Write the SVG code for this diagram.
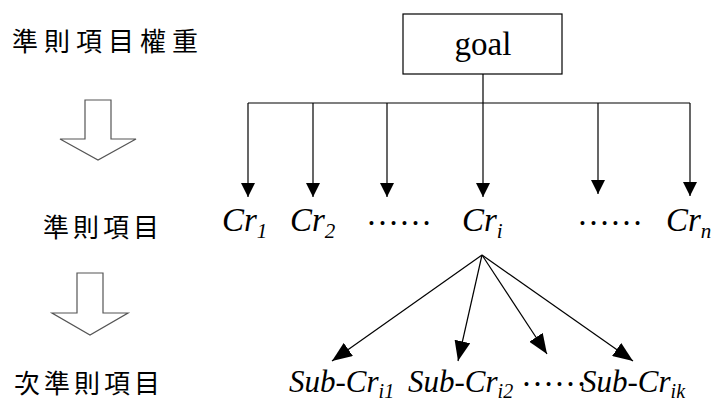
<svg xmlns="http://www.w3.org/2000/svg" width="714" height="405" viewBox="0 0 714 405">
  <style>
    .bg { fill: #ffffff; }
    .cjk { font-family: "Noto Sans CJK TC", "Noto Sans CJK SC", sans-serif; font-size: 26px; fill: #000; }
    .lat { font-family: "Liberation Serif", "Times New Roman", serif; font-size: 33px; fill: #000; }
    .it { font-style: italic; }
    .sub { font-size: 21px; }
    .sc { font-size: 31px; }
    .sc .sub { font-size: 20px; }
    .box { fill: #fff; stroke: #000; stroke-width: 1.2; }
    .ln { fill: none; stroke: #000; stroke-width: 1.2; }
    .blk { fill: #fff; stroke: #555; stroke-width: 1.2; stroke-linejoin: miter; }
  </style>
  <defs>
    <marker id="head" viewBox="0 0 14 14" refX="14" refY="7" markerWidth="14" markerHeight="14" markerUnits="userSpaceOnUse" orient="auto">
      <path d="M0,0 L14,7 L0,14 Z" fill="#000"/>
    </marker>
    <marker id="headL" viewBox="0 0 20 16" refX="20" refY="8" markerWidth="20" markerHeight="16" markerUnits="userSpaceOnUse" orient="auto">
      <path d="M0,0 L20,8 L0,16 Z" fill="#000"/>
    </marker>
  </defs>
  <rect class="bg" x="0" y="0" width="714" height="405"/>

  <!-- level captions on the left -->
  <g id="caption-weights">
    <text class="cjk" x="12" y="51" letter-spacing="6">準則項目權重</text>
  </g>
  <g id="step-arrow-1">
    <polygon class="blk" points="85,100 111,100 111,139 136,139 98,160 60,139 85,139"/>
  </g>
  <g id="caption-criteria">
    <text class="cjk" x="43" y="237" letter-spacing="4">準則項目</text>
  </g>
  <g id="step-arrow-2">
    <polygon class="blk" points="77,273 103,273 103,313 128,313 90,335 52,313 77,313"/>
  </g>
  <g id="caption-subcriteria">
    <text class="cjk" x="14" y="393" letter-spacing="4">次準則項目</text>
  </g>

  <!-- goal node -->
  <g id="goal">
    <rect class="box" x="403" y="14" width="159" height="60"/>
    <text class="lat" x="483" y="55" text-anchor="middle" font-size="32">goal</text>
  </g>

  <!-- connectors -->
  <g id="connectors">
    <path class="ln" d="M483,74 V103 M248,103 H690"/>
    <line class="ln" x1="248" y1="103" x2="248" y2="197" marker-end="url(#head)"/>
    <line class="ln" x1="313" y1="103" x2="313" y2="197" marker-end="url(#head)"/>
    <line class="ln" x1="387" y1="103" x2="387" y2="197" marker-end="url(#head)"/>
    <line class="ln" x1="483" y1="103" x2="483" y2="197" marker-end="url(#head)"/>
    <line class="ln" x1="598" y1="103" x2="598" y2="194" marker-end="url(#head)"/>
    <line class="ln" x1="690" y1="103" x2="690" y2="196" marker-end="url(#head)"/>
    <line class="ln" x1="482" y1="255" x2="332" y2="361" marker-end="url(#headL)"/>
    <line class="ln" x1="482" y1="255" x2="458" y2="361" marker-end="url(#headL)"/>
    <line class="ln" x1="482" y1="255" x2="547" y2="354" marker-end="url(#headL)"/>
    <line class="ln" x1="482" y1="255" x2="633" y2="361" marker-end="url(#headL)"/>
  </g>

  <!-- criteria -->
  <g id="cr1"><text class="lat it" x="222" y="231">Cr<tspan class="sub" dy="7">1</tspan></text></g>
  <g id="cr2"><text class="lat it" x="290" y="231">Cr<tspan class="sub" dy="7">2</tspan></text></g>
  <g id="dots-a"><text class="lat" x="366" y="225" font-size="24">……</text></g>
  <g id="cri"><text class="lat it" x="462" y="231">Cr<tspan class="sub" dy="7">i</tspan></text></g>
  <g id="dots-b"><text class="lat" x="577" y="225" font-size="24">……</text></g>
  <g id="crn"><text class="lat it" x="666" y="231">Cr<tspan class="sub" dy="7">n</tspan></text></g>

  <!-- sub-criteria -->
  <g id="sub-i1"><text class="lat it sc" x="289" y="392">Sub-Cr<tspan class="sub" dy="6">i1</tspan></text></g>
  <g id="sub-i2"><text class="lat it sc" x="408" y="392">Sub-Cr<tspan class="sub" dy="6">i2</tspan></text></g>
  <g id="dots-c"><text class="lat" x="521" y="386" font-size="20">……</text></g>
  <g id="sub-ik"><text class="lat it sc" x="581" y="392">Sub-Cr<tspan class="sub" dy="6">ik</tspan></text></g>
</svg>
